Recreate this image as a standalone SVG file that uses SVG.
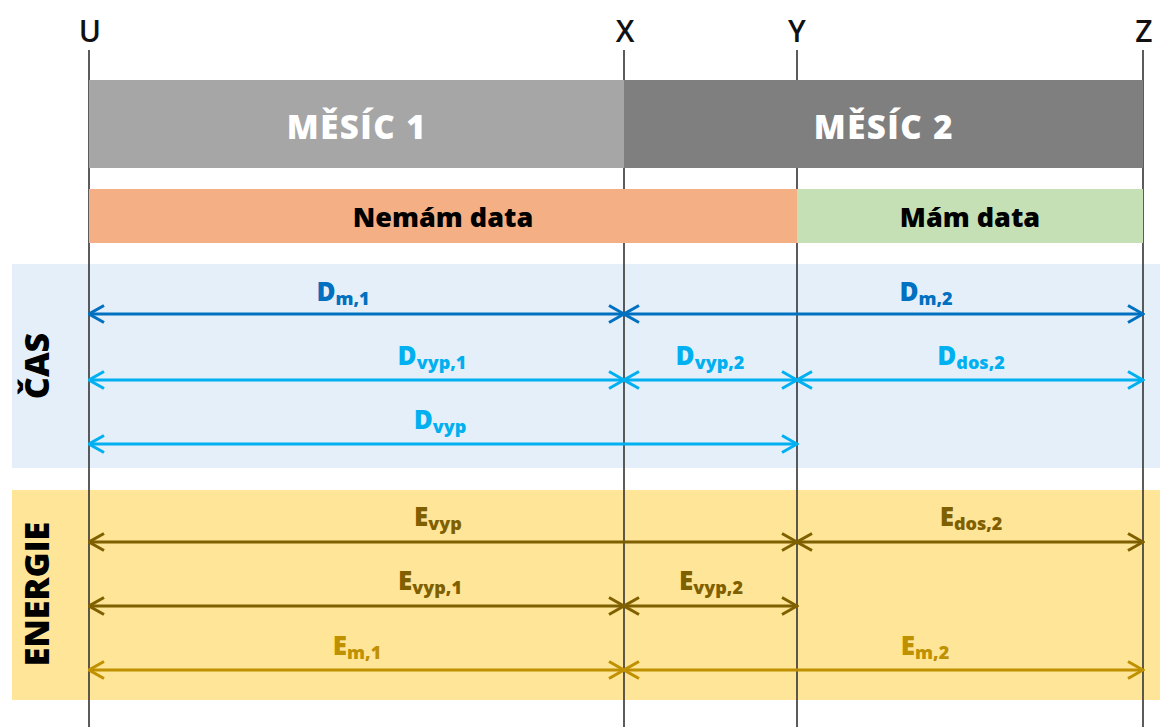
<svg xmlns="http://www.w3.org/2000/svg" width="1160" height="727" viewBox="0 0 1160 727">
  <style>
    text { font-family: "Open Sans", "Noto Sans", "DejaVu Sans", sans-serif; font-weight: 800; }
    .axis { font-size: 30px; font-weight: 600; fill: #111; text-anchor: middle; }
    .month { font-size: 33px; fill: #fff; text-anchor: middle; letter-spacing: 1.5px; }
    .data { font-size: 27px; fill: #000; text-anchor: middle; }
    .side { font-size: 34px; fill: #000; text-anchor: middle; }
    .lbl { font-size: 26px; text-anchor: middle; }
    .sub { font-size: 18px; }
    .vline { stroke: #333; stroke-width: 1.6; }
    .arr { fill: none; stroke-width: 3; }
    .dm { stroke: #0070c0; marker-start: url(#hDm); marker-end: url(#hDm); }
    .dv { stroke: #00b0f0; marker-start: url(#hDv); marker-end: url(#hDv); }
    .ev { stroke: #7f6000; marker-start: url(#hEv); marker-end: url(#hEv); }
    .em { stroke: #bf9000; marker-start: url(#hEm); marker-end: url(#hEm); }
    .tdm { fill: #0070c0; }
    .tdv { fill: #00b0f0; }
    .tev { fill: #7f6000; }
    .tem { fill: #bf9000; }
  </style>
  <defs>
    <marker id="hDm" viewBox="0 0 18 20" refX="16.5" refY="10" markerWidth="18" markerHeight="20" markerUnits="userSpaceOnUse" orient="auto-start-reverse">
      <path d="M1.5,1.5 L16.5,10 L1.5,18.5" fill="none" stroke="#0070c0" stroke-width="3"/>
    </marker>
    <marker id="hDv" viewBox="0 0 18 20" refX="16.5" refY="10" markerWidth="18" markerHeight="20" markerUnits="userSpaceOnUse" orient="auto-start-reverse">
      <path d="M1.5,1.5 L16.5,10 L1.5,18.5" fill="none" stroke="#00b0f0" stroke-width="3"/>
    </marker>
    <marker id="hEv" viewBox="0 0 18 20" refX="16.5" refY="10" markerWidth="18" markerHeight="20" markerUnits="userSpaceOnUse" orient="auto-start-reverse">
      <path d="M1.5,1.5 L16.5,10 L1.5,18.5" fill="none" stroke="#7f6000" stroke-width="3"/>
    </marker>
    <marker id="hEm" viewBox="0 0 18 20" refX="16.5" refY="10" markerWidth="18" markerHeight="20" markerUnits="userSpaceOnUse" orient="auto-start-reverse">
      <path d="M1.5,1.5 L16.5,10 L1.5,18.5" fill="none" stroke="#bf9000" stroke-width="3"/>
    </marker>
  </defs>

  <rect width="1160" height="727" fill="#fff"/>

  <!-- section backgrounds -->
  <g id="sec-cas">
    <rect x="12" y="264" width="1148" height="204" fill="#e5eff9"/>
    <text class="side" transform="translate(49,366) rotate(-90)">ČAS</text>
  </g>
  <g id="sec-energie">
    <rect x="12" y="490" width="1148" height="210" fill="#ffe597"/>
    <text class="side" transform="translate(49,594) rotate(-90)">ENERGIE</text>
  </g>

  <!-- time axis markers -->
  <g id="axis">
    <line class="vline" x1="89" y1="50" x2="89" y2="727"/>
    <line class="vline" x1="624" y1="50" x2="624" y2="727"/>
    <line class="vline" x1="797" y1="50" x2="797" y2="727"/>
    <line class="vline" x1="1143" y1="50" x2="1143" y2="727"/>
    <text class="axis" x="90" y="42">U</text>
    <text class="axis" x="625" y="42">X</text>
    <text class="axis" x="797" y="42">Y</text>
    <text class="axis" x="1144" y="42">Z</text>
  </g>

  <!-- months -->
  <g id="mesic1">
    <rect x="89" y="80" width="535" height="88" fill="#a6a6a6"/>
    <text class="month" x="357" y="139">MĚSÍC 1</text>
  </g>
  <g id="mesic2">
    <rect x="624" y="80" width="519" height="88" fill="#7f7f7f"/>
    <text class="month" x="884" y="139">MĚSÍC 2</text>
  </g>

  <!-- data availability -->
  <g id="nemam-data">
    <rect x="89" y="189" width="708" height="54" fill="#f4b084"/>
    <text class="data" x="443" y="227">Nemám data</text>
  </g>
  <g id="mam-data">
    <rect x="797" y="189" width="346" height="54" fill="#c5e0b4"/>
    <text class="data" x="970" y="227">Mám data</text>
  </g>

  <!-- dimension arrows -->
  <g id="connectors">
    <line class="arr dm" x1="89" y1="314" x2="624" y2="314"/>
    <line class="arr dm" x1="624" y1="314" x2="1143" y2="314"/>
    <line class="arr dv" x1="89" y1="380" x2="624" y2="380"/>
    <line class="arr dv" x1="624" y1="380" x2="797" y2="380"/>
    <line class="arr dv" x1="797" y1="380" x2="1143" y2="380"/>
    <line class="arr dv" x1="89" y1="444" x2="797" y2="444"/>
    <line class="arr ev" x1="89" y1="542" x2="797" y2="542"/>
    <line class="arr ev" x1="797" y1="542" x2="1143" y2="542"/>
    <line class="arr ev" x1="89" y1="606" x2="624" y2="606"/>
    <line class="arr ev" x1="624" y1="606" x2="797" y2="606"/>
    <line class="arr em" x1="89" y1="670" x2="624" y2="670"/>
    <line class="arr em" x1="624" y1="670" x2="1143" y2="670"/>
  </g>

  <!-- arrow labels -->
  <g id="labels">
    <text class="lbl tdm" x="343" y="301">D<tspan class="sub" dy="4">m,1</tspan></text>
    <text class="lbl tdm" x="926" y="301">D<tspan class="sub" dy="4">m,2</tspan></text>
    <text class="lbl tdv" x="432" y="365">D<tspan class="sub" dy="4">vyp,1</tspan></text>
    <text class="lbl tdv" x="710" y="365">D<tspan class="sub" dy="4">vyp,2</tspan></text>
    <text class="lbl tdv" x="971" y="365">D<tspan class="sub" dy="4">dos,2</tspan></text>
    <text class="lbl tdv" x="440" y="429">D<tspan class="sub" dy="4">vyp</tspan></text>
    <text class="lbl tev" x="438" y="526">E<tspan class="sub" dy="4">vyp</tspan></text>
    <text class="lbl tev" x="971" y="526">E<tspan class="sub" dy="4">dos,2</tspan></text>
    <text class="lbl tev" x="430" y="590">E<tspan class="sub" dy="4">vyp,1</tspan></text>
    <text class="lbl tev" x="711" y="590">E<tspan class="sub" dy="4">vyp,2</tspan></text>
    <text class="lbl tem" x="357" y="655">E<tspan class="sub" dy="4">m,1</tspan></text>
    <text class="lbl tem" x="925" y="655">E<tspan class="sub" dy="4">m,2</tspan></text>
  </g>
</svg>
